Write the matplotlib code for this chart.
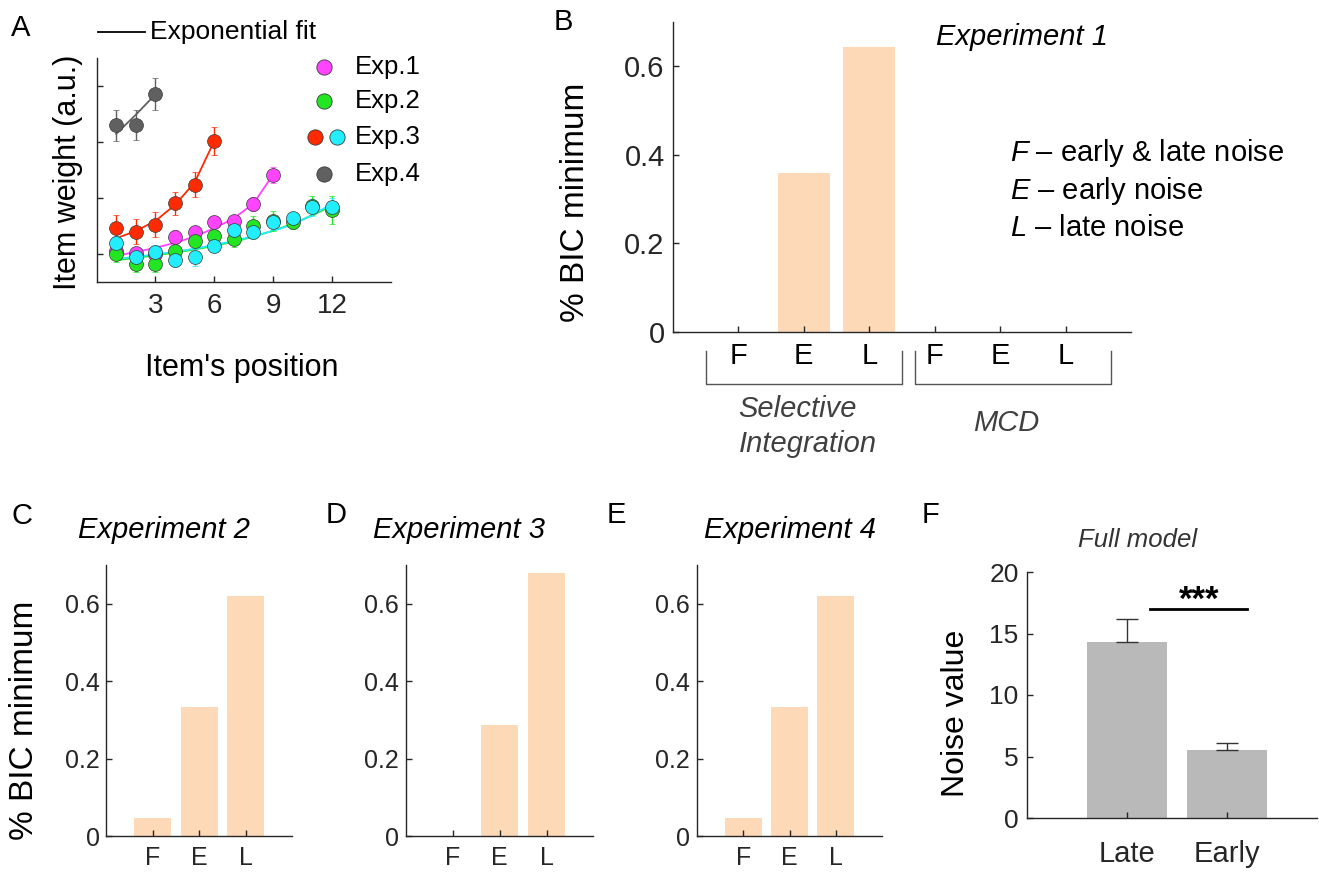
import numpy as np
import matplotlib
matplotlib.use("Agg")
import matplotlib.pyplot as plt
import matplotlib.transforms as mtransforms

plt.rcParams["font.family"] = ["Liberation Sans", "DejaVu Sans"]
plt.rcParams["mathtext.fontset"] = "custom"
plt.rcParams["mathtext.rm"] = "Liberation Sans"
plt.rcParams["mathtext.it"] = "Liberation Sans:italic"

W, H = 1319, 872

# ---- panel A: item weights (a.u.) by item position ----
POS_EXP1 = [1, 2, 3, 4, 5, 6, 7, 8, 9]
W_EXP1 = [0.211, 0.205, 0.200, 0.262, 0.277, 0.315, 0.317, 0.379, 0.483]
E_EXP1 = [0.020, 0.020, 0.020, 0.025, 0.020, 0.020, 0.020, 0.025, 0.028]
FIT_EXP1 = [0.194, 0.207, 0.222, 0.240, 0.262, 0.292, 0.327, 0.380, 0.483]

POS_EXP2 = [1, 2, 3, 4, 5, 6, 7, 8, 9, 10, 11, 12]
W_EXP2 = [0.200, 0.166, 0.166, 0.211, 0.248, 0.263, 0.254, 0.301, 0.317, 0.313, 0.373, 0.357]
E_EXP2 = [0.030, 0.030, 0.030, 0.030, 0.030, 0.030, 0.030, 0.035, 0.035, 0.025, 0.035, 0.050]
FIT_EXP2 = [0.178, 0.186, 0.195, 0.205, 0.216, 0.229, 0.244, 0.262, 0.283, 0.308, 0.338, 0.372]

POS_EXP3A = [1, 2, 3, 4, 5, 6]
W_EXP3A = [0.293, 0.280, 0.305, 0.381, 0.448, 0.603]
E_EXP3A = [0.047, 0.045, 0.044, 0.042, 0.045, 0.051]
FIT_EXP3A = [0.256, 0.282, 0.318, 0.375, 0.455, 0.603]

POS_EXP3B = [1, 2, 3, 4, 5, 6, 7, 8, 9, 10, 11, 12]
W_EXP3B = [0.238, 0.190, 0.206, 0.179, 0.188, 0.228, 0.286, 0.280, 0.313, 0.327, 0.367, 0.369]
E_EXP3B = [0.025, 0.030, 0.025, 0.025, 0.030, 0.020, 0.025, 0.025, 0.025, 0.020, 0.030, 0.030]
FIT_EXP3B = [0.182, 0.190, 0.199, 0.208, 0.219, 0.232, 0.247, 0.263, 0.283, 0.305, 0.340, 0.378]

POS_EXP4 = [1, 2, 3]
W_EXP4 = [0.659, 0.661, 0.772]
E_EXP4 = [0.055, 0.055, 0.057]
FIT_EXP4 = [0.629, 0.697, 0.770]

# ---- panels B-E: fraction of subjects with BIC minimum ----
CAT_B = ["F", "E", "L", "F", "E", "L"]
BIC_EXP1 = [0.0, 0.358, 0.643, 0.0, 0.0, 0.0]
CAT = ["F", "E", "L"]
BIC_EXP2 = [0.046, 0.333, 0.620]
BIC_EXP3 = [0.0, 0.287, 0.680]
BIC_EXP4 = [0.046, 0.333, 0.620]

# ---- panel F: fitted noise of the full model ----
NOISE_LABELS = ["Late", "Early"]
NOISE_MEAN = [14.33, 5.56]
NOISE_SEM = [1.87, 0.55]

PEACH = "#FDD9B7"
GREYBAR = "#B9B9B9"
AXC = "#262626"

fig = plt.figure(figsize=(W / 100, H / 100), dpi=100)


def px_axes(l, t, r, b):
    return fig.add_axes([l / W, 1 - b / H, (r - l) / W, (b - t) / H])


def ftext(x, y, s, **kw):
    kw.setdefault("ha", "center")
    kw.setdefault("va", "center")
    return fig.text(x / W, 1 - y / H, s, **kw)


def style(ax, fs):
    ax.spines[["top", "right"]].set_visible(False)
    for s in ("left", "bottom"):
        ax.spines[s].set_color(AXC)
        ax.spines[s].set_linewidth(1)
    ax.tick_params(direction="in", length=4, width=1, colors=AXC, labelsize=fs)


# ================= A =================
axA = px_axes(96.5, 58, 390.7, 282)
series = [
    (POS_EXP1, W_EXP1, E_EXP1, FIT_EXP1, "#FF44FF"),
    (POS_EXP2, W_EXP2, E_EXP2, FIT_EXP2, "#22E622"),
    (POS_EXP3A, W_EXP3A, E_EXP3A, FIT_EXP3A, "#FF2A00"),
    (POS_EXP4, W_EXP4, E_EXP4, FIT_EXP4, "#606060"),
    (POS_EXP3B, W_EXP3B, E_EXP3B, FIT_EXP3B, "#22EEFF"),
]
for x, y, e, f, c in series:
    axA.plot(x, f, color=c, lw=1.3, zorder=2)
for x, y, e, f, c in series:
    axA.errorbar(x, y, yerr=e, fmt="o", color=c, mec="#3a3a3a", mew=0.5, ms=10,
                 elinewidth=1, capsize=2.5, capthick=1, zorder=3)
axA.set_xlim(0, 15)
axA.set_ylim(0.1, 0.9)
axA.set_xticks([3, 6, 9, 12])
axA.set_yticks([0.2, 0.4, 0.6, 0.8])
axA.set_yticklabels([])
style(axA, 20)
axA.tick_params(axis="x", pad=8)
ftext(68, 172, "Item weight (a.u.)", rotation=90, fontsize=22)
ftext(242, 368, "Item's position", fontsize=22)

# legend of panel A
tf = fig.transFigure
axA.plot([98 / W, 145 / W], [1 - 32 / H] * 2, color="black", lw=1.3, transform=tf, clip_on=False)
ftext(150, 32, "Exponential fit", ha="left", fontsize=19)
leg = [(67, ["#FF44FF"], "Exp.1"), (101, ["#22E622"], "Exp.2"),
       (137, ["#FF2A00", "#22EEFF"], "Exp.3"), (174, ["#606060"], "Exp.4")]
for yy, cols, lab in leg:
    xs = [324] if len(cols) == 1 else [315, 337]
    for xx, cc in zip(xs, cols):
        axA.plot([xx / W], [1 - yy / H], "o", color=cc, mec="#3a3a3a", mew=0.6, ms=11,
                 transform=tf, clip_on=False)
    ftext(355, yy, lab, ha="left", fontsize=18.5)

# ================= B =================
axB = px_axes(673, 22, 1131, 332)
xb = np.arange(1, len(CAT_B) + 1)
axB.bar(xb, BIC_EXP1, width=0.8, color=PEACH, linewidth=0)
axB.set_xlim(0, 7)
axB.set_ylim(0, 0.7)
axB.set_yticks([0, 0.2, 0.4, 0.6])
axB.set_yticklabels(["0", "0.2", "0.4", "0.6"])
axB.set_xticks(xb)
axB.set_xticklabels(CAT_B)
style(axB, 21)
axB.tick_params(axis="x", pad=7, labelcolor="black")
axB.tick_params(axis="y", pad=6)
trB = mtransforms.blended_transform_factory(axB.transData, axB.transAxes)
for x0, x1 in [(0.5, 3.5), (3.7, 6.7)]:
    axB.plot([x0, x0, x1, x1], [-0.061, -0.168, -0.168, -0.061], color="#555555", lw=1,
             transform=trB, clip_on=False)
axB.text(1.0, -0.305, "Selective\nIntegration", transform=trB, ha="left", va="center",
         fontsize=21, style="italic", color="#404040", linespacing=1.3)
axB.text(5.1, -0.294, "MCD", transform=trB, ha="center", va="center",
         fontsize=21, style="italic", color="#404040")
axB.text(0.761, 0.952, "Experiment 1", transform=axB.transAxes, ha="center", va="center",
         fontsize=21, style="italic")
for yy, s in [(0.577, r"$\mathit{F}$ – early & late noise"),
              (0.455, r"$\mathit{E}$ – early noise"),
              (0.335, r"$\mathit{L}$ – late noise")]:
    axB.text(0.736, yy, s, transform=axB.transAxes, ha="left", va="center", fontsize=21)
ftext(575, 202, "% BIC minimum", rotation=90, fontsize=24)

# ================= C, D, E =================
small = [((106.5, 292), BIC_EXP2, "Experiment 2", 163.5),
         ((406, 593.4), BIC_EXP3, "Experiment 3", 459.5),
         ((697, 882), BIC_EXP4, "Experiment 4", 789.5)]
xc = np.arange(1, len(CAT) + 1)
for (l, r), vals, title, tx in small:
    ax = px_axes(l, 565, r, 836)
    ax.bar(xc, vals, width=0.8, color=PEACH, linewidth=0)
    ax.set_xlim(0, 4)
    ax.set_ylim(0, 0.7)
    ax.set_yticks([0, 0.2, 0.4, 0.6])
    ax.set_yticklabels(["0", "0.2", "0.4", "0.6"])
    ax.set_xticks(xc)
    ax.set_xticklabels(CAT)
    style(ax, 18)
    ax.tick_params(axis="x", pad=7)
    ax.tick_params(axis="y", pad=5)
    ftext(tx, 530, title, fontsize=21, style="italic")
ftext(25, 720, "% BIC minimum", rotation=90, fontsize=24)

# ================= F =================
axF = px_axes(1027, 572, 1317, 818)
xf = np.arange(1, len(NOISE_LABELS) + 1)
axF.bar(xf, NOISE_MEAN, width=0.8, color=GREYBAR, linewidth=0)
axF.errorbar(xf, NOISE_MEAN, yerr=[[0] * len(NOISE_SEM), NOISE_SEM], fmt="none",
             ecolor="#333333", elinewidth=1, capsize=8, capthick=1)
axF.set_xlim(0, 2.9)
axF.set_ylim(0, 20)
axF.set_yticks([0, 5, 10, 15, 20])
axF.set_xticks(xf)
axF.set_xticklabels(NOISE_LABELS)
style(axF, 19)
axF.tick_params(axis="x", pad=16, labelsize=21)
axF.tick_params(axis="y", pad=6)
axF.plot([1.23, 2.2], [17.0, 17.0], color="black", lw=2, clip_on=False)
axF.text(1.72, 16.9, "***", ha="center", va="baseline", fontsize=25, weight="bold")
ftext(1138, 540, "Full model", fontsize=18.5, style="italic", color="#333333")
ftext(956, 713, "Noise value", rotation=90, fontsize=23)

# panel letters
for lab, x, y in [("A", 21, 28), ("B", 563, 22), ("C", 22, 516),
                  ("D", 336, 515), ("E", 616, 515), ("F", 931, 515)]:
    ftext(x, y, lab, fontsize=21)

fig.savefig("out.png", dpi=100)
